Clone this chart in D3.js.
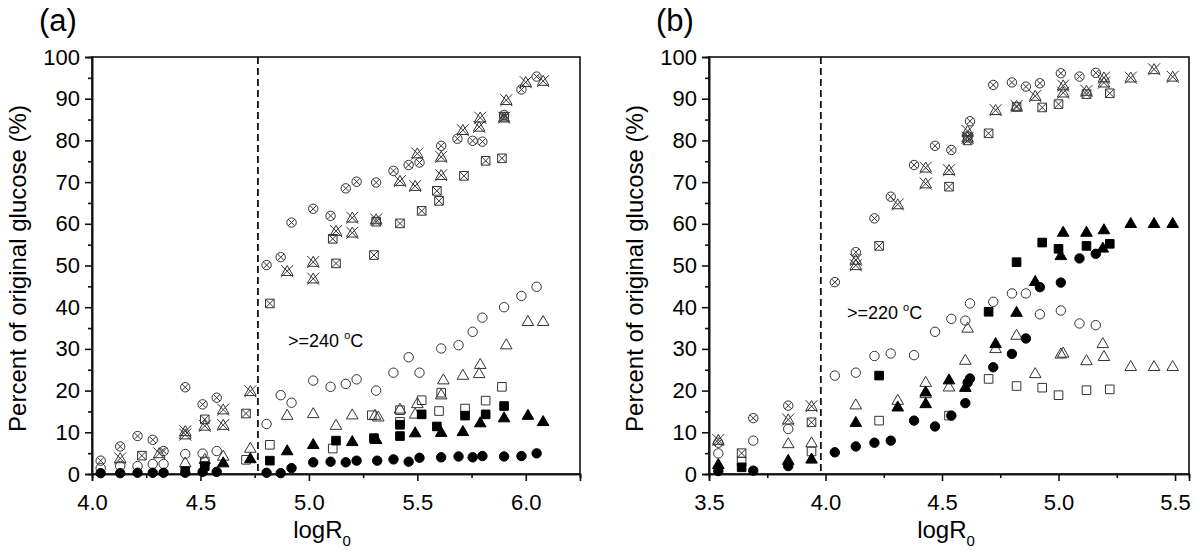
<!DOCTYPE html>
<html><head><meta charset="utf-8">
<script src="https://cdn.jsdelivr.net/npm/d3@7"></script>
<style>
body{margin:0;background:#fff}
svg{display:block}
text{font-family:"Liberation Sans",Arial,Helvetica,sans-serif;fill:#000}
</style>
</head><body>
<svg id="c" width="1200" height="553"></svg>
<script>
// ---------- Panel (a) data: [logR0, percent] ----------
const aCrossCircle = [[4.04,3.2],[4.13,6.6],[4.21,9.1],[4.28,8.2],[4.33,5.5],[4.43,20.8],[4.51,16.7],[4.575,18.3],[4.805,50.1],[4.87,52.0],[4.92,60.3],[5.02,63.6],[5.10,61.9],[5.17,68.5],[5.22,70.1],[5.31,69.9],[5.39,72.7],[5.46,74.1],[5.51,74.7],[5.61,78.7],[5.685,80.4],[5.755,79.9],[5.80,79.7],[5.90,86.1],[5.98,92.2],[6.05,95.3]];
const aCrossTri = [[4.13,3.6],[4.31,4.8],[4.43,10.1],[4.43,9.3],[4.52,11.4],[4.605,15.3],[4.605,11.6],[4.73,19.7],[4.90,48.5],[5.02,50.7],[5.02,46.7],[5.125,58.1],[5.20,61.3],[5.20,57.7],[5.31,60.9],[5.42,70.1],[5.49,68.9],[5.50,76.7],[5.61,75.9],[5.61,71.5],[5.71,82.3],[5.785,83.1],[5.79,85.3],[5.90,85.3],[5.91,89.5],[6.00,93.8],[6.08,94.1]];
const aCrossSquare = [[4.23,4.4],[4.52,13.1],[4.71,14.5],[4.82,40.9],[5.11,56.4],[5.125,50.5],[5.30,52.5],[5.31,60.5],[5.42,60.1],[5.52,63.1],[5.59,67.9],[5.60,65.5],[5.715,71.5],[5.815,75.1],[5.89,75.7],[5.90,85.7]];
const aOpenCircle = [[4.04,1.4],[4.13,1.9],[4.21,1.9],[4.28,2.4],[4.33,2.4],[4.43,4.8],[4.51,4.9],[4.575,5.5],[4.805,12.0],[4.87,18.9],[4.92,17.1],[5.02,22.4],[5.10,20.9],[5.17,21.6],[5.22,22.7],[5.31,20.0],[5.39,24.3],[5.46,28.0],[5.51,24.3],[5.61,30.1],[5.69,30.9],[5.755,34.1],[5.80,37.5],[5.90,40.0],[5.98,42.7],[6.05,44.9]];
const aOpenTri = [[4.43,2.6],[4.52,3.4],[4.605,4.2],[4.73,6.1],[4.90,14.0],[5.02,14.4],[5.125,11.6],[5.20,14.1],[5.305,14.0],[5.32,13.6],[5.42,15.5],[5.49,14.3],[5.50,16.8],[5.61,18.9],[5.62,22.5],[5.71,23.6],[5.785,24.0],[5.79,26.2],[5.91,30.9],[6.01,36.5],[6.08,36.5]];
const aOpenSquare = [[4.52,3.0],[4.71,3.4],[4.82,7.0],[5.11,6.1],[5.29,14.1],[5.42,15.3],[5.42,12.5],[5.52,17.7],[5.60,15.1],[5.61,19.5],[5.72,15.7],[5.815,17.6],[5.89,20.9]];
const aFillSquare = [[4.43,0.7],[4.52,1.9],[4.82,3.2],[5.125,8.0],[5.30,8.6],[5.42,9.1],[5.42,11.8],[5.52,14.3],[5.59,11.4],[5.72,14.0],[5.815,14.3],[5.90,16.3]];
const aFillTri = [[4.605,2.6],[4.73,3.6],[4.90,5.5],[5.02,7.0],[5.20,7.7],[5.31,8.2],[5.49,9.8],[5.61,9.9],[5.71,10.1],[5.79,12.2],[5.90,13.4],[6.01,14.0],[6.08,12.5]];
const aFillCircle = [[4.04,0.2],[4.13,0.2],[4.21,0.3],[4.28,0.3],[4.33,0.3],[4.43,0.3],[4.51,0.5],[4.575,0.5],[4.805,0.3],[4.87,0.2],[4.92,1.4],[5.02,2.8],[5.10,2.95],[5.17,2.8],[5.22,3.2],[5.315,3.2],[5.39,3.5],[5.46,2.95],[5.51,3.9],[5.61,4.0],[5.69,4.2],[5.755,4.0],[5.80,4.3],[5.90,4.2],[5.98,4.3],[6.05,4.95]];

// ---------- Panel (b) data ----------
const bCrossCircle = [[3.54,7.5],[3.69,13.4],[3.84,16.4],[4.04,46.0],[4.13,53.2],[4.21,61.3],[4.28,66.5],[4.38,74.1],[4.47,78.7],[4.54,77.7],[4.61,81.0],[4.62,84.6],[4.72,93.3],[4.80,93.9],[4.86,92.9],[4.92,93.7],[5.01,96.1],[5.09,95.3],[5.16,96.2]];
const bCrossTri = [[3.54,8.0],[3.84,12.9],[3.94,16.1],[4.13,51.2],[4.13,49.9],[4.31,64.5],[4.43,73.3],[4.43,69.5],[4.53,72.7],[4.61,80.5],[4.61,82.1],[4.73,87.1],[4.82,88.1],[4.90,90.5],[5.02,93.0],[5.02,91.3],[5.12,91.7],[5.195,94.9],[5.195,93.7],[5.31,94.9],[5.41,96.9],[5.49,95.1]];
const bCrossSquare = [[3.64,5.0],[3.94,12.4],[4.23,54.7],[4.53,68.9],[4.61,80.0],[4.70,81.7],[4.82,88.0],[4.93,87.9],[5.00,88.7],[5.12,91.1],[5.22,91.3]];
const bOpenCircle = [[3.54,4.95],[3.69,8.0],[3.84,10.8],[4.04,23.6],[4.13,24.3],[4.21,28.3],[4.28,28.9],[4.38,28.5],[4.47,34.1],[4.54,37.2],[4.60,36.8],[4.62,40.9],[4.72,41.3],[4.80,43.3],[4.86,43.3],[4.92,38.3],[5.01,39.2],[5.09,36.1],[5.16,35.7]];
const bOpenTri = [[3.84,7.2],[3.94,7.4],[4.13,16.5],[4.31,17.6],[4.43,21.9],[4.43,19.2],[4.53,20.8],[4.60,27.2],[4.61,34.9],[4.73,30.0],[4.82,33.2],[4.90,24.0],[5.01,28.7],[5.02,28.9],[5.12,27.1],[5.19,31.2],[5.195,28.1],[5.31,25.7],[5.41,25.7],[5.49,25.7]];
const bOpenSquare = [[3.64,3.0],[3.94,5.4],[4.23,12.8],[4.53,14.0],[4.70,22.8],[4.82,21.1],[4.93,20.7],[5.00,18.9],[5.12,20.1],[5.22,20.3]];
const bFillSquare = [[3.64,1.6],[4.23,23.6],[4.70,38.9],[4.82,50.8],[4.93,55.5],[5.00,54.0],[5.12,54.7],[5.22,55.2]];
const bFillTri = [[3.54,2.2],[3.84,3.2],[3.94,3.5],[4.13,12.3],[4.31,16.0],[4.43,19.6],[4.43,16.8],[4.53,22.5],[4.60,20.7],[4.73,31.2],[4.82,38.7],[4.90,46.1],[5.01,52.3],[5.02,57.9],[5.12,57.9],[5.19,54.1],[5.195,58.5],[5.31,60.0],[5.41,60.0],[5.49,60.0]];
const bFillCircle = [[3.54,0.7],[3.69,0.8],[3.84,1.9],[4.04,5.2],[4.13,6.6],[4.21,7.5],[4.28,8.0],[4.38,12.8],[4.47,11.4],[4.54,14.0],[4.60,17.0],[4.61,21.9],[4.62,22.9],[4.72,25.6],[4.80,28.8],[4.86,32.5],[4.92,44.8],[5.01,45.9],[5.09,51.7],[5.16,52.8]];

// ---------- Axes / labels ----------
const aXTicks = [4.0, 4.5, 5.0, 5.5, 6.0];
const aXMinor = [4.25, 4.75, 5.25, 5.75, 6.25];
const bXTicks = [3.5, 4.0, 4.5, 5.0, 5.5];
const bXMinor = [3.75, 4.25, 4.75, 5.25];
const yTicks = [0,10,20,30,40,50,60,70,80,90,100];
const yMinor = [5,15,25,35,45,55,65,75,85,95];
const yLabel = "Percent of original glucose (%)";

const svg = d3.select("#c");
const R = 4.7;
const shapes = {
  circle: `M${R},0A${R},${R} 0 1,1 ${-R},0A${R},${R} 0 1,1 ${R},0Z`,
  tri: "M0,-6.3L5.8,3.7L-5.8,3.7Z",
  square: "M-4.3,-4.3H4.3V4.3H-4.3Z",
  xc: "M-3.3,-3.3L3.3,3.3M3.3,-3.3L-3.3,3.3",
  xs: "M-4.3,-4.3L4.3,4.3M4.3,-4.3L-4.3,4.3",
  xt: "M-6,-6.6L6,5.4M6,-6.6L-6,5.4"
};

function drawPanel(cfg) {
  const x = d3.scaleLinear().domain(cfg.xDomain).range([cfg.left, cfg.right]);
  const y = d3.scaleLinear().domain([0, 100]).range([cfg.bottom, cfg.top]);
  const g = svg.append("g");

  g.append("rect").attr("x", cfg.left).attr("y", cfg.top)
    .attr("width", cfg.right - cfg.left).attr("height", cfg.bottom - cfg.top)
    .attr("fill", "none").attr("stroke", "#111").attr("stroke-width", 1.6);

  const fmtX = d3.format(".1f");
  const xa = g.append("g").attr("transform", `translate(0,${cfg.bottom})`)
    .call(d3.axisBottom(x).tickValues(cfg.xTicks).tickFormat(fmtX).tickSize(7).tickPadding(13));
  const xm = g.append("g").attr("transform", `translate(0,${cfg.bottom})`)
    .call(d3.axisBottom(x).tickValues(cfg.xMinor).tickFormat("").tickSize(4));
  const ya = g.append("g").attr("transform", `translate(${cfg.left},0)`)
    .call(d3.axisLeft(y).tickValues(yTicks).tickSize(7).tickPadding(5));
  const ym = g.append("g").attr("transform", `translate(${cfg.left},0)`)
    .call(d3.axisLeft(y).tickValues(yMinor).tickFormat("").tickSize(4));
  [xa, xm, ya, ym].forEach(a => {
    a.select(".domain").attr("stroke", "#111").attr("stroke-width", 1.6);
    a.selectAll(".tick line").attr("stroke", "#111").attr("stroke-width", 1.6);
    a.selectAll("text").attr("font-size", 22).attr("font-family", '"Liberation Sans",Arial,sans-serif').attr("fill", "#000");
  });

  g.append("line").attr("x1", x(cfg.dash)).attr("x2", x(cfg.dash))
    .attr("y1", cfg.top).attr("y2", cfg.bottom)
    .attr("stroke", "#111").attr("stroke-width", 1.8).attr("stroke-dasharray", "7,4");

  const t = g.append("text").attr("x", x(cfg.note[0])).attr("y", y(cfg.note[1])).attr("font-size", 18);
  t.append("tspan").text(cfg.noteText + " ");
  t.append("tspan").attr("font-size", 11).attr("dy", -8).text("o");
  t.append("tspan").attr("dy", 8).text("C");

  const series = [
    {data: cfg.s.crossCircle, base: "circle", cross: "xc", fill: false},
    {data: cfg.s.crossTri, base: "tri", cross: "xt", fill: false},
    {data: cfg.s.crossSquare, base: "square", cross: "xs", fill: false},
    {data: cfg.s.openCircle, base: "circle", fill: false},
    {data: cfg.s.openTri, base: "tri", fill: false},
    {data: cfg.s.openSquare, base: "square", fill: false},
    {data: cfg.s.fillCircle, base: "circle", fill: true},
    {data: cfg.s.fillTri, base: "tri", fill: true},
    {data: cfg.s.fillSquare, base: "square", fill: true}
  ];
  series.forEach(s => {
    const pts = g.append("g").selectAll("g").data(s.data).join("g")
      .attr("transform", d => `translate(${x(d[0])},${y(d[1])})`);
    pts.append("path").attr("d", shapes[s.base])
      .attr("fill", s.fill ? "#000" : "none")
      .attr("stroke", s.fill ? "#000" : "#333").attr("stroke-width", 1);
    if (s.cross) pts.append("path").attr("d", shapes[s.cross])
      .attr("fill", "none").attr("stroke", "#333").attr("stroke-width", 1);
  });

  svg.append("text").attr("x", cfg.titleX).attr("y", 31).attr("font-size", 31).text(cfg.title);
  svg.append("text").attr("transform", `translate(${cfg.left - 74},${(cfg.top + cfg.bottom) / 2 + 3}) rotate(-90)`)
    .attr("text-anchor", "middle").attr("dy", "0.35em").attr("font-size", 24).text(yLabel);
  const xl = svg.append("text").attr("x", cfg.xlabelX).attr("y", 538).attr("text-anchor", "middle").attr("font-size", 24);
  xl.append("tspan").text("logR");
  xl.append("tspan").attr("font-size", 15).attr("dy", 8).text("0");
}

drawPanel({
  left: 92, right: 580, top: 57, bottom: 474,
  xDomain: [4.0, 6.25], xTicks: aXTicks, xMinor: aXMinor,
  dash: 4.765, note: [4.904, 30.5], noteText: ">=240",
  title: "(a)", titleX: 39, xlabelX: 322,
  s: {crossCircle: aCrossCircle, crossTri: aCrossTri, crossSquare: aCrossSquare,
      openCircle: aOpenCircle, openTri: aOpenTri, openSquare: aOpenSquare,
      fillCircle: aFillCircle, fillTri: aFillTri, fillSquare: aFillSquare}
});
drawPanel({
  left: 709, right: 1189, top: 57, bottom: 474,
  xDomain: [3.5, 5.56], xTicks: bXTicks, xMinor: bXMinor,
  dash: 3.98, note: [4.092, 37.2], noteText: ">=220",
  title: "(b)", titleX: 656, xlabelX: 946,
  s: {crossCircle: bCrossCircle, crossTri: bCrossTri, crossSquare: bCrossSquare,
      openCircle: bOpenCircle, openTri: bOpenTri, openSquare: bOpenSquare,
      fillCircle: bFillCircle, fillTri: bFillTri, fillSquare: bFillSquare}
});
</script>
</body></html>
